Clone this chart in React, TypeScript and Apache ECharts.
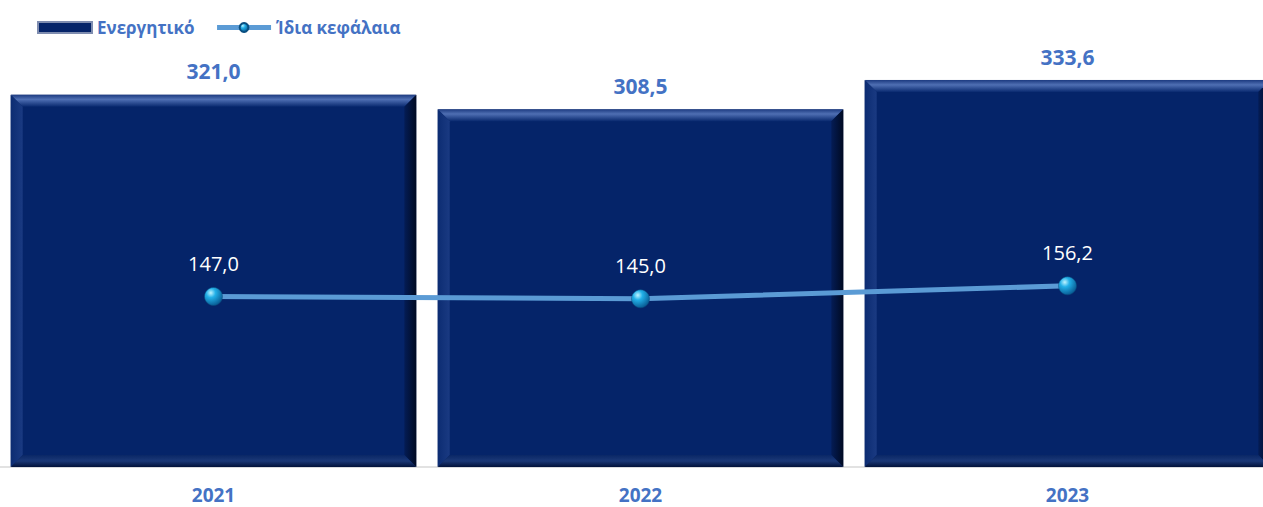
import React, { useEffect, useRef } from "react";
import * as echarts from "echarts";

const categories = ["2021", "2022", "2023"];
const assetValues = [321.0, 308.5, 333.6];
const equityValues = [147.0, 145.0, 156.2];
const seriesNames = ["Ενεργητικό", "Ίδια κεφάλαια"];

const FONT = "'Open Sans', 'Noto Sans', sans-serif";
const BLUE_TEXT = "#4472C4";
const fmt = (v: number) => v.toFixed(1).replace(".", ",");

export default function App() {
  const ref = useRef<HTMLDivElement>(null);
  useEffect(() => {
    if (!ref.current) return;
    const chart = echarts.init(ref.current, undefined, { renderer: "svg" });
    const ballColor = new echarts.graphic.RadialGradient(0.35, 0.3, 0.75, [
      { offset: 0, color: "#bff3ff" },
      { offset: 0.35, color: "#22b0e8" },
      { offset: 1, color: "#07578f" },
    ]);
    const B = 12;
    chart.setOption({
      animation: false,
      textStyle: { fontFamily: FONT },
      legend: {
        left: 37,
        top: 19,
        padding: 0,
        itemWidth: 54,
        itemHeight: 11,
        itemGap: 20,
        data: [
          { name: seriesNames[0], icon: "rect" },
          { name: seriesNames[1], lineStyle: { width: 5, color: "#5B9BD5" } },
        ],
        textStyle: { color: BLUE_TEXT, fontWeight: "bold", fontSize: 17, fontFamily: FONT },
      },
      grid: { left: 0, right: 0, top: 3, bottom: 40, containLabel: false },
      xAxis: {
        type: "category",
        data: categories,
        axisLine: { lineStyle: { color: "#D9D9D9", width: 1.5 } },
        axisTick: { show: false },
        axisLabel: {
          color: BLUE_TEXT,
          fontWeight: "bold",
          fontSize: 19,
          lineHeight: 19,
          margin: 18,
          fontFamily: FONT,
        },
      },
      yAxis: {
        type: "value",
        min: 0,
        max: 400,
        show: false,
        splitLine: { show: false },
      },
      series: [
        {
          name: seriesNames[0],
          type: "bar",
          data: assetValues,
          barCategoryGap: "5%",
          itemStyle: { color: "#052469", borderColor: "#7f8db0", borderWidth: 0.8 },
          z: 1,
          label: {
            show: true,
            position: "top",
            distance: 13,
            color: BLUE_TEXT,
            fontWeight: "bold",
            fontSize: 21,
            fontFamily: FONT,
            formatter: (p: any) => fmt(p.value),
          },
        },
        {
          type: "custom",
          silent: true,
          z: 2,
          data: assetValues.map((v, i) => [i, v]),
          renderItem: (params: any, api: any) => {
            const idx = api.value(0);
            const val = api.value(1);
            const top = api.coord([idx, val]);
            const base = api.coord([idx, 0]);
            const band = api.size([1, 0])[0];
            const w = band * 0.95;
            const x0 = top[0] - w / 2;
            const x1 = x0 + w;
            const y0 = top[1];
            const y1 = base[1];
            return {
              type: "group",
              children: [
                {
                  type: "polygon",
                  shape: { points: [[x0, y0], [x1, y0], [x1 - B, y0 + B], [x0 + B, y0 + B]] },
                  style: {
                    fill: new echarts.graphic.LinearGradient(0, 0, 0, 1, [
                      { offset: 0, color: "#1c3a80" },
                      { offset: 0.4, color: "#4f6fb3" },
                      { offset: 1, color: "#0a2a70" },
                    ]),
                  },
                },
                {
                  type: "polygon",
                  shape: { points: [[x0, y0], [x0 + B, y0 + B], [x0 + B, y1 - B], [x0, y1]] },
                  style: {
                    fill: new echarts.graphic.LinearGradient(0, 0, 1, 0, [
                      { offset: 0, color: "#0c2c72" },
                      { offset: 1, color: "#1a3a82" },
                    ]),
                  },
                },
                {
                  type: "polygon",
                  shape: { points: [[x1, y0], [x1, y1], [x1 - B, y1 - B], [x1 - B, y0 + B]] },
                  style: {
                    fill: new echarts.graphic.LinearGradient(0, 0, 1, 0, [
                      { offset: 0, color: "#041c55" },
                      { offset: 1, color: "#000a22" },
                    ]),
                  },
                },
                {
                  type: "polygon",
                  shape: { points: [[x0, y1], [x1, y1], [x1 - B, y1 - B], [x0 + B, y1 - B]] },
                  style: {
                    fill: new echarts.graphic.LinearGradient(0, 0, 0, 1, [
                      { offset: 0, color: "#0a2766" },
                      { offset: 0.5, color: "#1b3877" },
                      { offset: 1, color: "#02123a" },
                    ]),
                  },
                },
              ],
            };
          },
        },
        {
          name: seriesNames[1],
          type: "line",
          data: equityValues,
          z: 5,
          symbol: "circle",
          symbolSize: 18,
          lineStyle: { color: "#5B9BD5", width: 5 },
          itemStyle: { color: ballColor, borderColor: "#0a4f80", borderWidth: 0.5 },
          label: {
            show: true,
            position: "top",
            distance: 14,
            color: "#FFFFFF",
            fontSize: 20,
            fontFamily: FONT,
            formatter: (p: any) => fmt(p.value),
          },
        },
      ],
    });
    return () => chart.dispose();
  }, []);
  return (
    <div style={{ position: "absolute", left: 0, top: 0, width: 1263, height: 507, overflow: "hidden" }}>
      <div ref={ref} style={{ width: 1281, height: 507 }} />
    </div>
  );
}
